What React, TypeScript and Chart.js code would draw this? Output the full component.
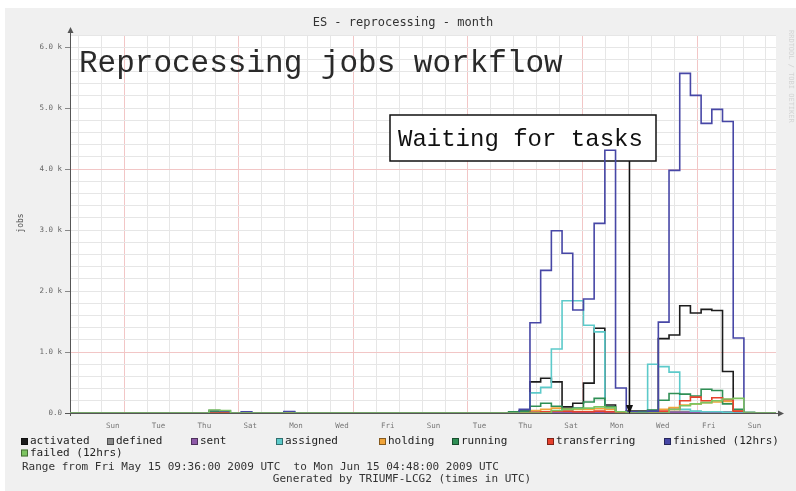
import React, { useEffect, useRef } from 'react';
import { Chart, registerables } from 'chart.js';

Chart.register(...registerables);

// ---------- texts ----------
const TITLE = 'ES - reprocessing - month';
const Y_AXIS_TITLE = 'jobs';
const RANGE_TEXT = 'Range from Fri May 15 09:36:00 2009 UTC  to Mon Jun 15 04:48:00 2009 UTC';
const GENERATED_TEXT = 'Generated by TRIUMF-LCG2 (times in UTC)';
const HEADLINE = 'Reprocessing jobs workflow';
const CALLOUT = 'Waiting for tasks';
const WATERMARK = 'RRDTOOL / TOBI OETIKER';

// ---------- time axis (hours relative to Sat May 16 00:00 UTC) ----------
const X_MIN_HOURS = -8.7;
const X_MAX_HOURS = 730.5;
const BIN_HOURS = 11.2;
const DAY_LABELS = ['Sun', 'Tue', 'Thu', 'Sat', 'Mon', 'Wed', 'Fri', 'Sun', 'Tue', 'Thu', 'Sat', 'Mon', 'Wed', 'Fri', 'Sun'];
const FIRST_LABEL_DAY = 1; // Sun May 17
const MAJOR_DAY_OFFSET = 2; // pink day lines every 5 days from here
const CALLOUT_HOUR = 576.8; // where the "Waiting for tasks" arrow points

// ---------- value axis ----------
const Y_MAX = 6200;
const Y_MINOR_STEP = 200;
const Y_LABEL_STEP = 1000;
const Y_MAJOR_VALUES = [1000, 4000];

// ---------- series values, one per bin (66 bins) ----------
const ACTIVATED = [
  0, 0, 0, 0, 0, 0, 0, 0, 0, 0, 0,
  0, 0, 0, 0, 0, 0, 0, 0, 0, 0, 0,
  0, 0, 0, 0, 0, 0, 0, 0, 0, 0, 0,
  0, 0, 0, 0, 0, 0, 0, 0, 30, 510, 570,
  510, 100, 160, 490, 1390, 130, 20, 30, 30, 40, 1220,
  1280, 1760, 1640, 1700, 1680, 680, 10, 0, 0, 0, 0,
];
const DEFINED = [
  0, 0, 0, 0, 0, 0, 0, 0, 0, 0, 0,
  0, 0, 0, 0, 0, 0, 0, 0, 0, 0, 0,
  0, 0, 0, 0, 0, 0, 0, 0, 0, 0, 0,
  0, 0, 0, 0, 0, 0, 0, 0, 0, 15, 20,
  20, 15, 15, 20, 20, 15, 0, 0, 0, 0, 20,
  20, 25, 25, 20, 20, 20, 0, 0, 0, 0, 0,
];
const SENT = [
  0, 0, 0, 0, 0, 0, 0, 0, 0, 0, 0,
  0, 0, 0, 0, 0, 0, 0, 0, 0, 0, 0,
  0, 0, 0, 0, 0, 0, 0, 0, 0, 0, 0,
  0, 0, 0, 0, 0, 0, 0, 0, 0, 5, 5,
  5, 5, 5, 5, 5, 5, 0, 0, 0, 0, 10,
  10, 10, 10, 10, 10, 10, 5, 0, 0, 0, 0,
];
const ASSIGNED = [
  0, 0, 0, 0, 0, 0, 0, 0, 0, 0, 0,
  0, 0, 0, 0, 0, 0, 0, 0, 0, 0, 0,
  0, 0, 0, 0, 0, 0, 0, 0, 0, 0, 0,
  0, 0, 0, 0, 0, 0, 0, 0, 0, 330, 420,
  1050, 1840, 1840, 1440, 1330, 80, 10, 0, 0, 800, 760,
  670, 60, 30, 20, 20, 10, 0, 0, 0, 0, 0,
];
const HOLDING = [
  0, 0, 0, 0, 0, 0, 0, 0, 0, 0, 0,
  0, 30, 0, 0, 0, 0, 0, 0, 0, 0, 0,
  0, 0, 0, 0, 0, 0, 0, 0, 0, 0, 0,
  0, 0, 0, 0, 0, 0, 0, 0, 20, 40, 60,
  80, 70, 60, 60, 70, 60, 20, 0, 0, 0, 60,
  90, 130, 150, 170, 180, 190, 30, 0, 0, 0, 0,
];
const RUNNING = [
  0, 0, 0, 0, 0, 0, 0, 0, 0, 0, 0,
  0, 20, 0, 0, 0, 0, 0, 0, 20, 0, 0,
  0, 0, 0, 0, 0, 0, 0, 0, 0, 0, 0,
  0, 0, 0, 0, 0, 0, 0, 20, 30, 110, 160,
  110, 60, 80, 180, 240, 100, 20, 20, 20, 50, 210,
  320, 310, 280, 390, 370, 150, 60, 10, 0, 0, 0,
];
const TRANSFERRING = [
  0, 0, 0, 0, 0, 0, 0, 0, 0, 0, 0,
  0, 0, 0, 0, 0, 0, 0, 0, 0, 0, 0,
  0, 0, 0, 0, 0, 0, 0, 0, 0, 0, 0,
  0, 0, 0, 0, 0, 0, 0, 0, 0, 10, 20,
  30, 30, 20, 20, 30, 20, 0, 0, 0, 0, 30,
  60, 200, 260, 200, 250, 220, 30, 0, 0, 0, 0,
];
const FINISHED = [
  0, 0, 0, 0, 0, 0, 0, 0, 0, 0, 0,
  0, 40, 30, 0, 20, 0, 0, 0, 25, 0, 0,
  0, 0, 0, 0, 0, 0, 0, 0, 0, 0, 0,
  0, 0, 0, 0, 0, 0, 0, 0, 60, 1480, 2340,
  2990, 2620, 1690, 1870, 3110, 4310, 410, 20, 10, 30, 1490,
  3980, 5570, 5210, 4750, 4980, 4780, 1230, 0, 0, 0, 0,
];
const FAILED = [
  0, 0, 0, 0, 0, 0, 0, 0, 0, 0, 0,
  0, 50, 40, 0, 0, 0, 0, 0, 0, 0, 0,
  0, 0, 0, 0, 0, 0, 0, 0, 0, 0, 0,
  0, 0, 0, 0, 0, 0, 0, 0, 0, 0, 0,
  40, 60, 70, 80, 100, 90, 20, 0, 0, 0, 0,
  60, 120, 150, 170, 200, 230, 240, 0, 0, 0, 0,
];

const SERIES_LABELS = ['activated', 'defined', 'sent', 'assigned', 'holding', 'running', 'transferring', 'finished (12hrs)', 'failed (12hrs)'];
const SERIES_VALUES = [ACTIVATED, DEFINED, SENT, ASSIGNED, HOLDING, RUNNING, TRANSFERRING, FINISHED, FAILED];
const SERIES_COLORS = ['#1c1c1c', '#8a8a8a', '#8e5aa8', '#5ccaca', '#f0a43a', '#2f8f55', '#e6402c', '#4747a6', '#7cc460'];

// ---------- layout (pixels) ----------
const W = 796;
const H = 491;
const LEGEND_ROWS = [[0, 1, 2, 3, 4, 5, 6, 7], [8]];
const LEGEND_BOX_X = [[21, 107, 191, 276, 379, 452, 547, 664], [21]];
const LEGEND_ROW_Y = [441.5, 453];
const CALLOUT_BOX = { left: 390, top: 115, right: 656, bottom: 161 };

const MONO = '"DejaVu Sans Mono", monospace';
const COURIER = '"Liberation Mono", "Courier New", monospace';

function stepPoints(values: number[]) {
  const pts = values.map((v, i) => ({ x: X_MIN_HOURS + (i + 1) * BIN_HOURS, y: v }));
  pts.unshift({ x: X_MIN_HOURS, y: values[0] });
  return pts;
}

const decor = {
  id: 'decor',
  beforeDraw(chart: any) {
    const { ctx, chartArea: a } = chart;
    ctx.save();
    ctx.fillStyle = '#ffffff';
    ctx.fillRect(0, 0, chart.width, chart.height);
    ctx.fillStyle = '#f0f0f0';
    ctx.fillRect(5, 8, chart.width - 5, chart.height - 8);
    ctx.fillStyle = '#ffffff';
    ctx.fillRect(a.left, a.top, a.right - a.left, a.bottom - a.top);
    ctx.restore();
  },
  beforeDatasetsDraw(chart: any) {
    const { ctx, chartArea: a } = chart;
    ctx.save();
    ctx.fillStyle = '#ffffff';
    ctx.fillRect(CALLOUT_BOX.left, CALLOUT_BOX.top, CALLOUT_BOX.right - CALLOUT_BOX.left, CALLOUT_BOX.bottom - CALLOUT_BOX.top);
    ctx.strokeStyle = '#111';
    ctx.lineWidth = 1.5;
    ctx.strokeRect(CALLOUT_BOX.left, CALLOUT_BOX.top, CALLOUT_BOX.right - CALLOUT_BOX.left, CALLOUT_BOX.bottom - CALLOUT_BOX.top);
    ctx.strokeStyle = '#555';
    ctx.fillStyle = '#555';
    ctx.lineWidth = 1;
    ctx.beginPath();
    ctx.moveTo(a.left + 0.5, a.bottom + 3);
    ctx.lineTo(a.left + 0.5, a.top - 3);
    ctx.moveTo(a.left - 5, a.bottom + 0.5);
    ctx.lineTo(a.right + 3, a.bottom + 0.5);
    ctx.stroke();
    ctx.beginPath();
    ctx.moveTo(a.left + 0.5, a.top - 8);
    ctx.lineTo(a.left - 2.5, a.top - 2);
    ctx.lineTo(a.left + 3.5, a.top - 2);
    ctx.closePath();
    ctx.fill();
    ctx.beginPath();
    ctx.moveTo(a.right + 8, a.bottom + 0.5);
    ctx.lineTo(a.right + 2, a.bottom - 2.5);
    ctx.lineTo(a.right + 2, a.bottom + 3.5);
    ctx.closePath();
    ctx.fill();
    ctx.restore();
  },
  afterDatasetsDraw(chart: any) {
    const { ctx, scales } = chart;
    const xs = scales.x;
    const ys = scales.y;
    ctx.save();

    ctx.fillStyle = '#333';
    ctx.font = `12px ${MONO}`;
    ctx.textAlign = 'center';
    ctx.textBaseline = 'middle';
    ctx.fillText(TITLE, 403, 23);

    ctx.save();
    ctx.translate(21, 223);
    ctx.rotate(-Math.PI / 2);
    ctx.font = `8px ${MONO}`;
    ctx.fillStyle = '#555';
    ctx.fillText(Y_AXIS_TITLE, 0, 0);
    ctx.restore();

    ctx.save();
    ctx.translate(791, 30);
    ctx.rotate(Math.PI / 2);
    ctx.font = `7px ${MONO}`;
    ctx.fillStyle = '#d4d4d4';
    ctx.textAlign = 'left';
    ctx.fillText(WATERMARK, 0, 0);
    ctx.restore();

    ctx.fillStyle = '#2a2a2a';
    ctx.font = `31px ${COURIER}`;
    ctx.textAlign = 'left';
    ctx.textBaseline = 'alphabetic';
    ctx.fillText(HEADLINE, 79, 72);

    ctx.font = `24px ${COURIER}`;
    ctx.fillStyle = '#111';
    ctx.fillText(CALLOUT, 398, 146);
    const ax = Math.round(xs.getPixelForValue(CALLOUT_HOUR)) + 0.5;
    const y0 = ys.getPixelForValue(0);
    ctx.strokeStyle = '#111';
    ctx.lineWidth = 1.5;
    ctx.beginPath();
    ctx.moveTo(ax, CALLOUT_BOX.bottom);
    ctx.lineTo(ax, y0 - 6);
    ctx.stroke();
    ctx.beginPath();
    ctx.moveTo(ax, y0 + 1);
    ctx.lineTo(ax - 3.5, y0 - 8);
    ctx.lineTo(ax + 3.5, y0 - 8);
    ctx.closePath();
    ctx.fill();

    ctx.font = `11px ${MONO}`;
    ctx.textBaseline = 'middle';
    ctx.textAlign = 'left';
    const ds = chart.data.datasets;
    LEGEND_ROWS.forEach((row, r) => {
      row.forEach((idx, k) => {
        const bx = LEGEND_BOX_X[r][k];
        const by = LEGEND_ROW_Y[r];
        ctx.fillStyle = ds[idx].borderColor;
        ctx.fillRect(bx, by - 3.5, 7, 7);
        ctx.strokeStyle = 'rgba(0,0,0,0.45)';
        ctx.lineWidth = 1;
        ctx.strokeRect(bx + 0.5, by - 3, 6, 6);
        ctx.fillStyle = '#222';
        ctx.fillText(ds[idx].label, bx + 9, by);
      });
    });

    ctx.fillStyle = '#333';
    ctx.fillText(RANGE_TEXT, 22, 467);
    ctx.textAlign = 'center';
    ctx.fillText(GENERATED_TEXT, 402, 479);
    ctx.restore();
  },
};

export default function App() {
  const ref = useRef<HTMLCanvasElement | null>(null);

  useEffect(() => {
    if (!ref.current) return;
    const datasets = SERIES_LABELS.map((label, i) => ({
      label,
      data: stepPoints(SERIES_VALUES[i]),
      borderColor: SERIES_COLORS[i],
      backgroundColor: SERIES_COLORS[i],
      borderWidth: 1.6,
      stepped: 'before' as const,
      pointRadius: 0,
      fill: false,
      order: SERIES_LABELS.length - i,
    }));

    const chart = new Chart(ref.current, {
      type: 'line',
      data: { datasets },
      plugins: [decor],
      options: {
        animation: false,
        responsive: false,
        devicePixelRatio: 1,
        layout: { padding: { left: 8, right: 20, top: 35, bottom: 0 } },
        plugins: {
          legend: { display: false },
          tooltip: { enabled: false },
          title: { display: false },
        },
        scales: {
          x: {
            type: 'linear',
            min: X_MIN_HOURS,
            max: X_MAX_HOURS,
            border: { display: false },
            afterBuildTicks: (s: any) => {
              const t = [];
              for (let h = 0; h <= X_MAX_HOURS; h += 12) t.push({ value: h });
              s.ticks = t;
            },
            afterFit: (s: any) => {
              s.height = 78;
            },
            grid: {
              drawTicks: false,
              lineWidth: 1,
              color: (c: any) => {
                const v = c.tick ? c.tick.value : 0;
                if (v % 24 !== 0) return 'rgba(0,0,0,0)';
                const d = v / 24;
                return (d - MAJOR_DAY_OFFSET) % 5 === 0 ? '#f2c6c6' : '#e6e6e6';
              },
            },
            ticks: {
              autoSkip: false,
              maxRotation: 0,
              minRotation: 0,
              padding: 9,
              color: '#777',
              font: { family: 'DejaVu Sans Mono', size: 7.5 },
              callback: (value: any) => {
                const v = Number(value);
                if (v % 24 !== 12) return '';
                const d = (v - 12) / 24 - FIRST_LABEL_DAY;
                if (d < 0 || d % 2 !== 0) return '';
                return DAY_LABELS[d / 2] ?? '';
              },
            },
          },
          y: {
            type: 'linear',
            min: 0,
            max: Y_MAX,
            border: { display: false },
            afterBuildTicks: (s: any) => {
              const t = [];
              for (let v = 0; v <= Y_MAX; v += Y_MINOR_STEP) t.push({ value: v });
              s.ticks = t;
            },
            afterFit: (s: any) => {
              s.width = 62;
            },
            grid: {
              drawTicks: true,
              tickLength: 5,
              lineWidth: 1,
              color: (c: any) => {
                const v = c.tick ? c.tick.value : 0;
                return Y_MAJOR_VALUES.includes(v) ? '#f2c6c6' : '#e6e6e6';
              },
              tickColor: (c: any) => {
                const v = c.tick ? c.tick.value : 0;
                return v % Y_LABEL_STEP === 0 ? '#888' : 'rgba(0,0,0,0)';
              },
            },
            ticks: {
              autoSkip: false,
              padding: 3,
              color: '#666',
              font: { family: 'DejaVu Sans Mono', size: 7.5 },
              callback: (value: any) => {
                const v = Number(value);
                if (v % Y_LABEL_STEP !== 0) return '';
                return v === 0 ? '0.0' : (v / 1000).toFixed(1) + ' k';
              },
            },
          },
        },
      } as any,
    });
    return () => chart.destroy();
  }, []);

  return (
    <div style={{ position: 'absolute', left: 0, top: 0, width: W, height: H }}>
      <canvas ref={ref} width={W} height={H} style={{ display: 'block' }} />
    </div>
  );
}
